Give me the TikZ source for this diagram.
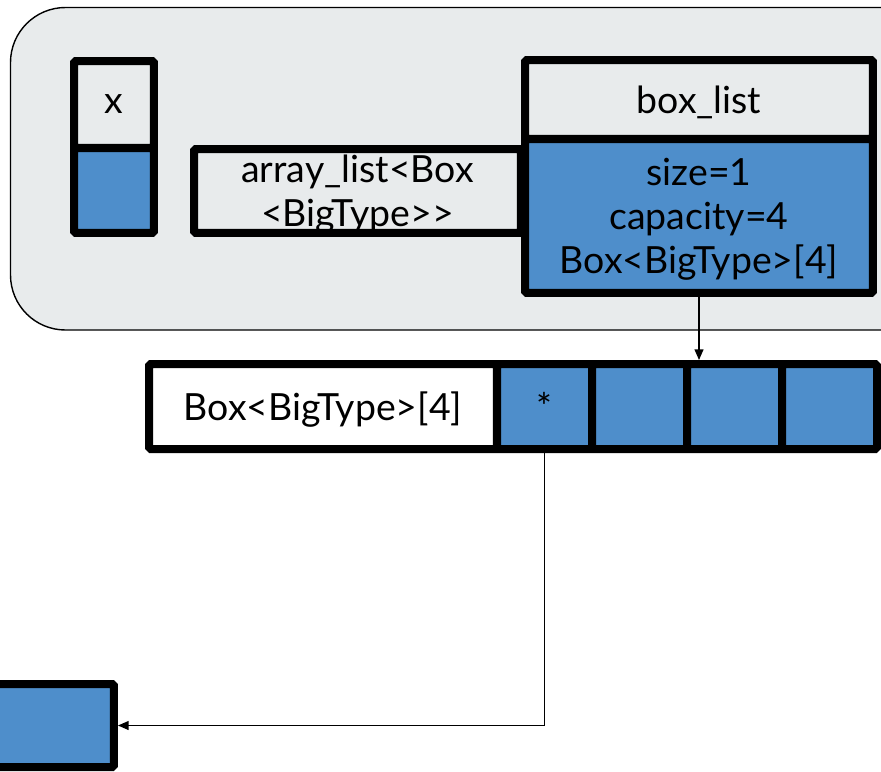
\documentclass[tikz,border=0pt]{standalone}
\usepackage{fontspec}
\setmainfont{Lato}
\usetikzlibrary{arrows.meta}

\definecolor{slotblue}{RGB}{78,142,203}
\definecolor{framegray}{RGB}{232,235,236}

\tikzset{
    cell/.style={draw, line width=0.16cm, rounded corners=1pt, inner sep=0pt,
        font=\fontsize{21.3}{25}\selectfont, align=center, text depth=0pt},
    ptr/.style={-{Triangle[length=6pt, width=5pt]}, line width=0.8pt},
}

\begin{document}
\begin{tikzpicture}[x=0.02cm, y=-0.02cm]
    \useasboundingbox (0,0) rectangle (881,771);
    \clip (0,0) rectangle (881,771);

    % frame of the stack
    \draw[fill=framegray, line width=0.8pt, rounded corners=1.1cm]
        (10.5,7.5) rectangle (960,330);

    \node[cell, fill=framegray, minimum width=1.6cm, minimum height=1.74cm]
        (xname) at (114,104.5) {x};
    \node[cell, fill=slotblue, minimum width=1.6cm, minimum height=1.70cm]
        (xval) at (114,190.5) {};

    \node[cell, fill=framegray, minimum width=6.54cm, minimum height=1.68cm]
        (arrlist) at (357.5,191) {array\_list<Box\\<BigType>{}>};

    \node[cell, fill=framegray, minimum width=6.96cm, minimum height=1.58cm]
        (boxhead) at (699,99.5) {box\_list};
    \node[cell, fill=slotblue, minimum width=6.96cm, minimum height=3.08cm]
        (boxbody) at (699,216) {size=1\\capacity=4\\Box<BigType>[4]};

    % the heap array
    \node[cell, fill=white, minimum width=6.96cm, minimum height=1.70cm]
        (arrlabel) at (323,406.5) {Box<BigType>[4]};
    \node[cell, fill=slotblue, minimum width=1.9cm, minimum height=1.70cm]
        (cell1) at (544.5,406.5) {*};
    \node[cell, fill=slotblue, minimum width=1.9cm, minimum height=1.70cm]
        (cell2) at (639.5,406.5) {};
    \node[cell, fill=slotblue, minimum width=1.9cm, minimum height=1.70cm]
        (cell3) at (734.5,406.5) {};
    \node[cell, fill=slotblue, minimum width=1.9cm, minimum height=1.70cm]
        (cell4) at (829.5,406.5) {};

    \node[cell, fill=slotblue, minimum width=2.48cm, minimum height=1.66cm]
        (target) at (52,725.5) {};

    \draw[ptr] (boxbody.south) -- (boxbody.south |- cell3.north);
    \draw[ptr] (cell1.south) |- (target.east);
\end{tikzpicture}
\end{document}
